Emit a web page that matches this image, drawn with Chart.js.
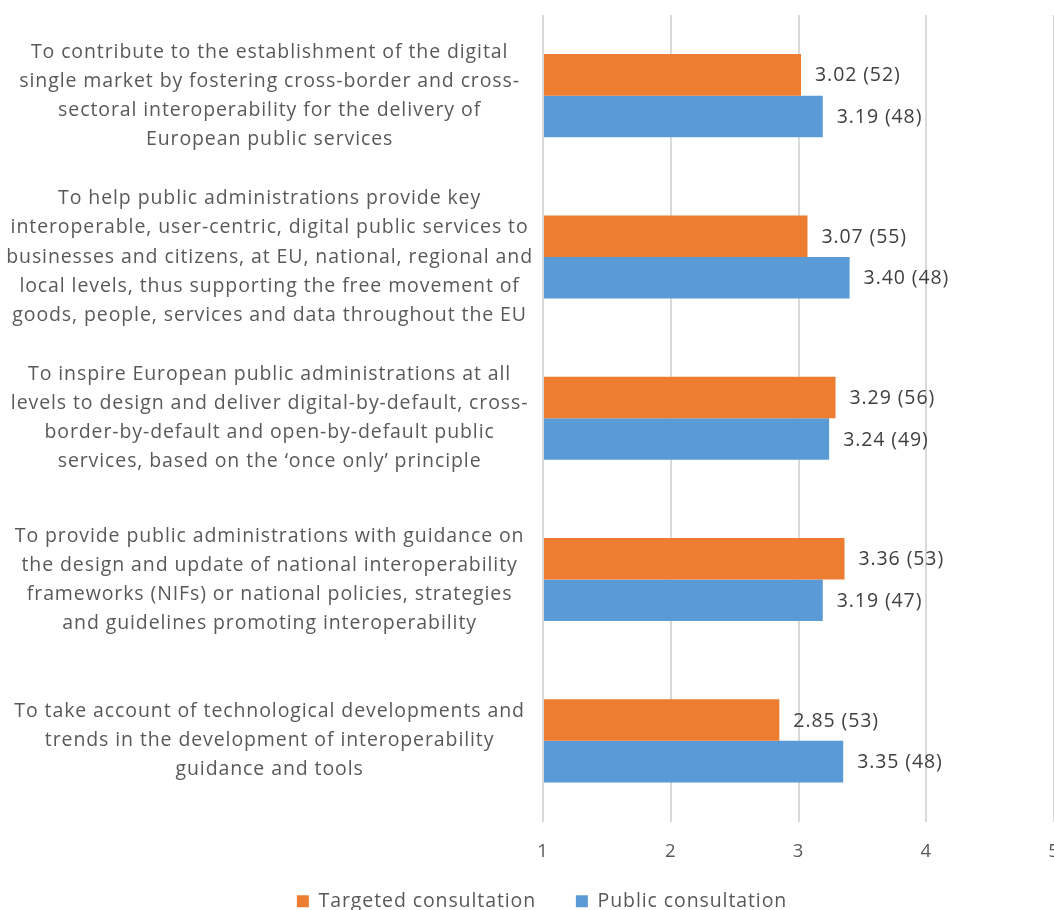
<!DOCTYPE html>
<html>
<head>
<meta charset="utf-8">
<script src="https://cdn.jsdelivr.net/npm/chart.js@4"></script>
<style>
  html, body { margin: 0; padding: 0; background: #fff; overflow: hidden; }
  #wrap { width: 1085px; height: 921px; position: relative; }
</style>
</head>
<body>
<div id="wrap"><canvas id="chart"></canvas></div>
<script>
const categories = [
    ['To contribute to the establishment of the digital', 'single market by fostering cross-border and cross-', 'sectoral interoperability for the delivery of', 'European public services'],
    ['To help public administrations provide key', 'interoperable, user-centric, digital public services to', 'businesses and citizens, at EU, national, regional and', 'local levels, thus supporting the free movement of', 'goods, people, services and data throughout the EU'],
    ['To inspire European public administrations at all', 'levels to design and deliver digital-by-default, cross-', 'border-by-default and open-by-default public', 'services, based on the \u2018once only\u2019 principle'],
    ['To provide public administrations with guidance on', 'the design and update of national interoperability', 'frameworks (NIFs) or national policies, strategies', 'and guidelines promoting interoperability'],
    ['To take account of technological developments and', 'trends in the development of interoperability', 'guidance and tools'],
];

const targetedScores = [3.02, 3.07, 3.29, 3.36, 2.85];
const targetedCounts = [52, 55, 56, 53, 53];
const publicScores   = [3.19, 3.40, 3.24, 3.19, 3.35];
const publicCounts   = [48, 48, 49, 47, 48];

const xTicks = [1, 2, 3, 4, 5];

const FONT = '"Open Sans", "Noto Sans", sans-serif';

// The source text is set wide; widen all canvas text a little.
const spacing = {
    id: 'spacing',
    beforeUpdate(chart) { chart.ctx.letterSpacing = '0.9px'; },
    beforeLayout(chart) { chart.ctx.letterSpacing = '0.9px'; },
    beforeDraw(chart) { chart.ctx.letterSpacing = '0.9px'; },
    // legend sits a bit right of the canvas centre in the original
    afterLayout(chart) {
        if (chart.legend) { chart.legend.left += 15; chart.legend.right += 15; }
    },
};

// Draws "score (n)" just right of each bar end.
const valueLabels = {
    id: 'valueLabels',
    afterDatasetsDraw(chart) {
        const ctx = chart.ctx;
        ctx.save();
        ctx.font = '19.5px ' + FONT;
        ctx.fillStyle = '#404040';
        ctx.textAlign = 'left';
        ctx.textBaseline = 'middle';
        chart.data.datasets.forEach((ds, di) => {
            const meta = chart.getDatasetMeta(di);
            meta.data.forEach((bar, i) => {
                const txt = ds.data[i].toFixed(2) + ' (' + ds.counts[i] + ')';
                ctx.fillText(txt, bar.x + 14, bar.y + 1);
            });
        });
        ctx.restore();
    },
};

new Chart(document.getElementById('chart'), {
    type: 'bar',
    data: {
        labels: categories,
        datasets: [
            {
                label: 'Targeted consultation',
                data: targetedScores,
                counts: targetedCounts,
                backgroundColor: '#ED7D31',
                borderWidth: 0,
            },
            {
                label: 'Public consultation',
                data: publicScores,
                counts: publicCounts,
                backgroundColor: '#5B9BD5',
                borderWidth: 0,
            },
        ],
    },
    options: {
        indexAxis: 'y',
        responsive: true,
        maintainAspectRatio: false,
        animation: false,
        datasets: {
            bar: { barPercentage: 1, categoryPercentage: 0.515, base: 1 },
        },
        layout: { padding: { top: 15, right: 31, bottom: 0, left: 0 } },
        plugins: {
            legend: {
                position: 'bottom',
                labels: {
                    boxWidth: 12,
                    boxHeight: 12,
                    padding: 10,
                    color: '#595959',
                    font: { size: 19.5, family: FONT },
                    // wider gap between the two entries, without tall legend padding
                    generateLabels(chart) {
                        const items = Chart.defaults.plugins.legend.labels.generateLabels(chart);
                        items.forEach((it, i) => {
                            it.lineWidth = 0;
                            if (i < items.length - 1) it.text += '\u00a0\u00a0\u00a0\u00a0\u00a0';
                        });
                        return items;
                    },
                },
            },
            tooltip: { enabled: false },
        },
        scales: {
            x: {
                min: 1,
                max: 5,
                afterBuildTicks: (s) => { s.ticks = xTicks.map(v => ({ value: v })); },
                afterFit: (s) => { s.height = 60; },
                ticks: { color: '#595959', padding: 19, font: { size: 18.5, family: FONT } },
                grid: { color: '#d9d9d9', lineWidth: 2, drawTicks: false },
                border: { display: false },
            },
            y: {
                afterFit: (s) => { s.width = 543; s.paddingTop = 0; s.paddingBottom = 0; },
                ticks: {
                    color: '#595959',
                    crossAlign: 'center',
                    padding: 10,
                    font: { size: 19.5, family: FONT, lineHeight: 1.49 },
                },
                grid: { display: false, drawTicks: false },
                border: { display: false },
            },
        },
    },
    plugins: [spacing, valueLabels],
});
</script>
</body>
</html>
